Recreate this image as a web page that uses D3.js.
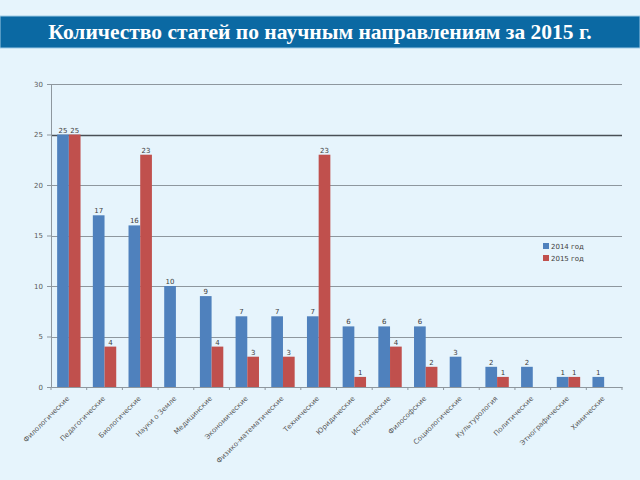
<!DOCTYPE html>
<html>
<head>
<meta charset="utf-8">
<script src="https://cdn.jsdelivr.net/npm/d3@7"></script>
<style>
  body { margin: 0; background: #e6f4fc; }
  svg { display: block; }
</style>
</head>
<body>
<svg id="chart"></svg>
<script>
var categories = ['Филологические', 'Педагогические', 'Биологические', 'Науки о Земле', 'Медицинские',
  'Экономические', 'Физико-математические', 'Технические', 'Юридические', 'Исторические',
  'Философские', 'Социологические', 'Культурология', 'Политические', 'Этнографические', 'Химические'];
var values2014 = [25, 17, 16, 10, 9, 7, 7, 7, 6, 6, 6, 3, 2, 2, 1, 1];
var values2015 = [25, 4, 23, null, 4, 3, 3, 23, 1, 4, 2, null, 1, null, 1, null];
var seriesNames = ['2014 год', '2015 год'];
var yTicks = [0, 5, 10, 15, 20, 25, 30];

var width = 640, height = 480;
var margin = {top: 84, right: 18, bottom: 93, left: 51};
var colors = ['#4f81bd', '#c0504d'];

var svg = d3.select('#chart').attr('width', width).attr('height', height);

svg.append('rect').attr('width', width).attr('height', height).attr('fill', '#e6f4fc');

// title band
svg.append('rect')
  .attr('x', 0).attr('y', 16)
  .attr('width', width).attr('height', 32)
  .attr('fill', '#0b69a3')
  .attr('stroke', '#9fcbe6').attr('stroke-width', 1);
svg.append('text')
  .attr('x', width / 2).attr('y', 38.5)
  .attr('text-anchor', 'middle')
  .attr('fill', 'white')
  .style('font-family', '"Liberation Serif", "Times New Roman", serif')
  .style('font-weight', 'bold')
  .style('font-size', '21.5px')
  .text('Количество статей по научным направлениям за 2015 г.');

var x = d3.scaleBand()
  .domain(categories)
  .range([margin.left, width - margin.right])
  .paddingInner(0)
  .paddingOuter(0);
var sub = d3.scaleBand()
  .domain([0, 1])
  .range([0, x.bandwidth()])
  .paddingOuter(0.525);
var y = d3.scaleLinear()
  .domain([0, 30])
  .range([height - margin.bottom, margin.top]);

// gridlines
svg.append('g').selectAll('line')
  .data(yTicks.filter(function(d) { return d > 0; })).enter()
  .append('line')
  .attr('x1', margin.left).attr('x2', width - margin.right)
  .attr('y1', function(d) { return Math.round(y(d)) + 0.5; })
  .attr('y2', function(d) { return Math.round(y(d)) + 0.5; })
  .attr('stroke', function(d) { return d === 25 ? '#4a4f55' : '#8e979e'; })
  .attr('stroke-width', function(d) { return d === 25 ? 1.6 : 1; });

// bars
var series = [values2014, values2015];
series.forEach(function(vals, s) {
  var g = svg.append('g');
  var pts = categories.map(function(c, i) { return {c: c, v: vals[i]}; })
    .filter(function(d) { return d.v !== null; });
  g.selectAll('rect').data(pts).enter()
    .append('rect')
    .attr('x', function(d) { return x(d.c) + sub(s); })
    .attr('y', function(d) { return y(d.v); })
    .attr('width', sub.bandwidth())
    .attr('height', function(d) { return y(0) - y(d.v); })
    .attr('fill', colors[s]);
  g.selectAll('text').data(pts).enter()
    .append('text')
    .attr('x', function(d) { return x(d.c) + sub(s) + sub.bandwidth() / 2; })
    .attr('y', function(d) { return y(d.v) - 2; })
    .attr('text-anchor', 'middle')
    .attr('fill', '#404040')
    .style('font-family', 'DejaVu Sans, sans-serif')
    .style('font-size', '7px')
    .text(function(d) { return d.v; });
});

// y axis
var yAxis = svg.append('g')
  .attr('transform', 'translate(' + margin.left + ',0)')
  .call(d3.axisLeft(y).tickValues(yTicks).tickSize(4).tickPadding(4));
yAxis.select('.domain').attr('stroke', '#8e979e');
yAxis.selectAll('line').attr('stroke', '#8e979e');
yAxis.selectAll('text')
  .attr('fill', '#595959')
  .style('font-family', 'DejaVu Sans, sans-serif')
  .style('font-size', '7px');

// x axis
var xAxis = svg.append('g')
  .attr('transform', 'translate(0,' + y(0) + ')')
  .call(d3.axisBottom(x).tickSize(0).tickFormat(''));
xAxis.select('.domain').attr('stroke', '#8e979e');
xAxis.selectAll('.tick').remove();
xAxis.selectAll('line.sep')
  .data(d3.range(categories.length + 1)).enter()
  .append('line')
  .attr('class', 'sep')
  .attr('x1', function(i) { return margin.left + i * x.step(); })
  .attr('x2', function(i) { return margin.left + i * x.step(); })
  .attr('y1', 0).attr('y2', 3)
  .attr('stroke', '#8e979e');

svg.append('g').selectAll('text')
  .data(categories).enter()
  .append('text')
  .attr('transform', function(d) {
    return 'translate(' + (x(d) + x.bandwidth() / 2 + 1) + ',' + (y(0) + 12) + ')rotate(-45)';
  })
  .attr('text-anchor', 'end')
  .attr('fill', '#595959')
  .style('font-family', 'DejaVu Sans, sans-serif')
  .style('font-size', '7px')
  .text(function(d) { return d; });

// legend
var legend = svg.append('g').attr('transform', 'translate(543,243)');
seriesNames.forEach(function(name, i) {
  legend.append('rect')
    .attr('x', 0).attr('y', i * 12)
    .attr('width', 6).attr('height', 6)
    .attr('fill', colors[i]);
  legend.append('text')
    .attr('x', 8).attr('y', i * 12 + 6)
    .attr('fill', '#404040')
    .style('font-family', 'DejaVu Sans, sans-serif')
    .style('font-size', '7px')
    .text(name);
});
</script>
</body>
</html>
